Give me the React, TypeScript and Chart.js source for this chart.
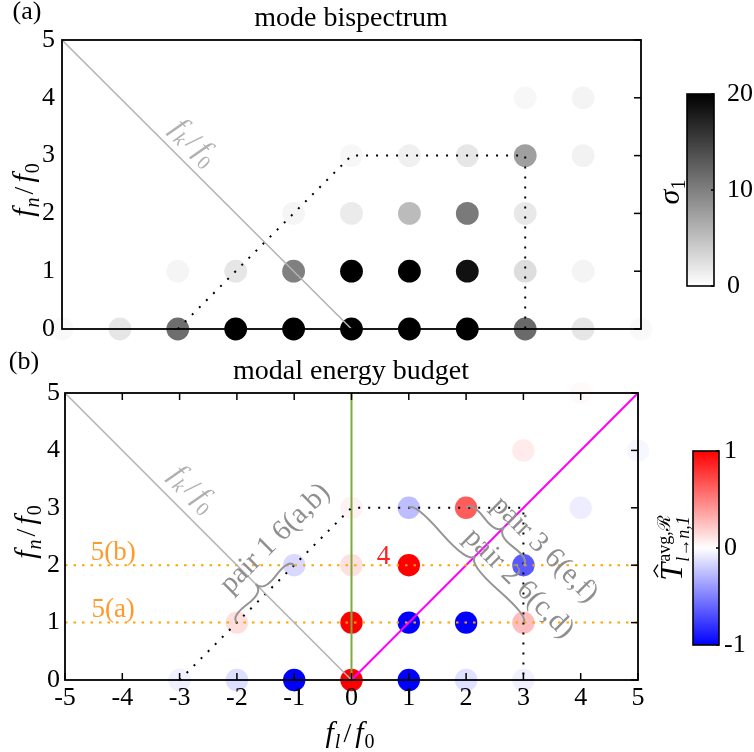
import React, { useEffect, useRef } from 'react';
import { Chart, registerables } from 'chart.js';
Chart.register(...registerables);

const FONT = "'Liberation Serif', 'Times New Roman', serif";

// ---------- Panel (a): mode bispectrum ----------
const bispecFl = [-5, -4, -3, -2, -1, 0, 1, 2, 3, 4, 5, -3, -2, -1, 0, 1, 2, 3, 4, -1, 0, 1, 2, 3, 0, 1, 2, 3, 4, 3, 4];
const bispecFn = [0, 0, 0, 0, 0, 0, 0, 0, 0, 0, 0, 1, 1, 1, 1, 1, 1, 1, 1, 2, 2, 2, 2, 2, 3, 3, 3, 3, 3, 4, 4];
const bispecSigma = [0.5, 2.0, 11.4, 24, 26, 28, 26, 24, 11.7, 2.0, 0.5, 0.8, 2.0, 10.0, 22, 21, 18.7, 2.7, 0.9, 0.8, 1.6, 5.3, 10.4, 1.8, 0.6, 1.2, 2.0, 7.5, 1.0, 0.6, 0.9];

// ---------- Panel (b): modal energy budget ----------
const budgetFl = [-3, -2, -1, 0, 1, 2, 3, -2, 0, 1, 2, 3, -1, 0, 1, 3, 0, 1, 2, 4, 3, 5, 4];
const budgetFn = [0, 0, 0, 0, 0, 0, 0, 1, 1, 1, 1, 1, 2, 2, 2, 2, 3, 3, 3, 3, 4, 4, 5];
const budgetT = [-0.06, -0.13, -1, 1, -1, -0.12, -0.06, 0.13, 1, -1, -1, 0.26, -0.15, 0.12, 1, -0.65, 0.05, -0.26, 0.64, -0.07, 0.08, -0.03, 0.02];

// ---------- Guide lines ----------
const fkLineX = [-5, 0];
const fkLineY = [5, 0];
const triadX = [-3, 0, 3, 3];
const triadY = [0, 3, 3, 0];
const greenX = [0, 0];
const greenY = [0, 5];
const magentaX = [0, 5];
const magentaY = [0, 5];
const orangeLevels = [1, 2];
const orangeLabels = ['5(a)', '5(b)'];

// ---------- Axes / colorbars ----------
const xTickValues = [-5, -4, -3, -2, -1, 0, 1, 2, 3, 4, 5];
const yTickValues = [0, 1, 2, 3, 4, 5];
const sigmaRange = [0, 20];
const sigmaTicks = [0, 10, 20];
const budgetRange = [-1, 1];
const budgetTicks = [-1, 0, 1];

// ---------- Pair annotations ----------
const pairNames = ['pair 1 6(a,b)', 'pair 2 6(c,d)', 'pair 3 6(e,f)'];
const pairFrom = [[-2, 1], [1, 3], [2, 3]];
const pairTo = [[-1, 2], [3, 1], [3, 2]];

const clamp = (v: number, a: number, b: number) => Math.max(a, Math.min(b, v));
function grayColor(v: number) {
  const t = clamp((v - sigmaRange[0]) / (sigmaRange[1] - sigmaRange[0]), 0, 1);
  const g = Math.round(255 * (1 - t));
  return `rgb(${g},${g},${g})`;
}
function bwrColor(v: number) {
  const t = clamp(v, budgetRange[0], budgetRange[1]);
  if (t < 0) {
    const c = Math.round(255 * (1 + t));
    return `rgb(${c},${c},255)`;
  }
  const c = Math.round(255 * (1 - t));
  return `rgb(255,${c},${c})`;
}

type Seg = { t: string; size: number; it?: boolean; dy?: number; gap?: number };
const segFont = (s: Seg) => `${s.it ? 'italic ' : ''}${s.size}px ${FONT}`;
function drawRich(ctx: CanvasRenderingContext2D, segs: Seg[], cx: number, cy: number, angle: number, color: string, base: number) {
  ctx.save();
  ctx.translate(cx, cy);
  ctx.rotate(angle);
  ctx.fillStyle = color;
  ctx.textAlign = 'left';
  ctx.textBaseline = 'alphabetic';
  const ws: number[] = [];
  let total = 0;
  segs.forEach((s) => {
    ctx.font = segFont(s);
    const w = ctx.measureText(s.t).width;
    ws.push(w);
    total += w + (s.gap ?? 0);
  });
  let x = -total / 2;
  segs.forEach((s, i) => {
    ctx.font = segFont(s);
    ctx.fillText(s.t, x, base + (s.dy ?? 0));
    x += ws[i] + (s.gap ?? 0);
  });
  ctx.restore();
}
function ratio(sub: string): Seg[] {
  return [
    { t: 'f', size: 30, it: true, gap: 1 },
    { t: sub, size: 20, it: true, dy: 6, gap: 3 },
    { t: '/', size: 28, gap: 4 },
    { t: 'f', size: 30, it: true, gap: 1 },
    { t: '0', size: 20, dy: 6 },
  ];
}
function drawText(ctx: CanvasRenderingContext2D, text: string, x: number, y: number, angle: number, size: number, color: string, align: CanvasTextAlign = 'center') {
  ctx.save();
  ctx.translate(x, y);
  ctx.rotate(angle);
  ctx.font = `${size}px ${FONT}`;
  ctx.fillStyle = color;
  ctx.textAlign = align;
  ctx.textBaseline = 'middle';
  ctx.fillText(text, 0, 0);
  ctx.restore();
}
function drawBrace(ctx: CanvasRenderingContext2D, x1: number, y1: number, x2: number, y2: number, w: number, q = 0.6) {
  const L = Math.hypot(x2 - x1, y2 - y1);
  const ux = (x2 - x1) / L, uy = (y2 - y1) / L;
  const nx = uy, ny = -ux;
  const tx = x1 + ux * L * 0.5 + nx * w, ty = y1 + uy * L * 0.5 + ny * w;
  const c1x = x1 + nx * q * w, c1y = y1 + ny * q * w;
  const m1x = x1 + ux * L * 0.25 + nx * (1 - q) * w, m1y = y1 + uy * L * 0.25 + ny * (1 - q) * w;
  const c3x = x2 + nx * q * w, c3y = y2 + ny * q * w;
  const m2x = x1 + ux * L * 0.75 + nx * (1 - q) * w, m2y = y1 + uy * L * 0.75 + ny * (1 - q) * w;
  ctx.beginPath();
  ctx.moveTo(x1, y1);
  ctx.quadraticCurveTo(c1x, c1y, m1x, m1y);
  ctx.quadraticCurveTo(2 * m1x - c1x, 2 * m1y - c1y, tx, ty);
  ctx.moveTo(x2, y2);
  ctx.quadraticCurveTo(c3x, c3y, m2x, m2y);
  ctx.quadraticCurveTo(2 * m2x - c3x, 2 * m2y - c3y, tx, ty);
  ctx.stroke();
}
function drawColorbar(ctx: CanvasRenderingContext2D, x0: number, y0: number, w: number, h: number, stops: [number, string][], ticks: number[], range: number[], labelX: number) {
  const g = ctx.createLinearGradient(0, y0 + h, 0, y0);
  stops.forEach(([o, c]) => g.addColorStop(o, c));
  ctx.fillStyle = g;
  ctx.fillRect(x0, y0, w, h);
  ctx.strokeStyle = '#000';
  ctx.lineWidth = 1.6;
  ctx.strokeRect(x0, y0, w, h);
  ticks.forEach((t) => {
    const y = y0 + h - ((t - range[0]) / (range[1] - range[0])) * h;
    ctx.beginPath();
    ctx.moveTo(x0 + w, y);
    ctx.lineTo(x0 + w - 3, y);
    ctx.stroke();
    drawText(ctx, String(t), labelX, y, 0, 26, '#000', 'left');
  });
}
function frame(ctx: CanvasRenderingContext2D, chart: any, sides: { top?: boolean; bottom?: boolean; right?: boolean }) {
  const { left, right, top, bottom } = chart.chartArea;
  const xs = chart.scales.x, ys = chart.scales.y;
  ctx.save();
  ctx.strokeStyle = '#000';
  ctx.lineWidth = 1.8;
  ctx.strokeRect(left, top, right - left, bottom - top);
  ctx.lineWidth = 1.5;
  const T = 7;
  xTickValues.forEach((v) => {
    const px = xs.getPixelForValue(v);
    if (sides.top) { ctx.beginPath(); ctx.moveTo(px, top); ctx.lineTo(px, top + T); ctx.stroke(); }
    if (sides.bottom) { ctx.beginPath(); ctx.moveTo(px, bottom); ctx.lineTo(px, bottom - T); ctx.stroke(); }
  });
  yTickValues.forEach((v) => {
    const py = ys.getPixelForValue(v);
    if (sides.right) { ctx.beginPath(); ctx.moveTo(right, py); ctx.lineTo(right - T, py); ctx.stroke(); }
  });
  ctx.restore();
}

const pts = (xs: number[], ys: number[]) => xs.map((x, i) => ({ x, y: ys[i] }));
const lineDs = (xs: number[], ys: number[], color: string, width: number, dash: number[] = []) => ({
  data: pts(xs, ys),
  showLine: true,
  borderColor: color,
  borderWidth: width,
  borderDash: dash,
  pointRadius: 0,
  fill: false,
  tension: 0,
  order: 1,
  clip: false,
});

const tickFont = { family: FONT, size: 26 };

function configA(): any {
  const colors = bispecSigma.map(grayColor);
  return {
    type: 'scatter',
    data: {
      datasets: [
        { data: pts(bispecFl, bispecFn), pointRadius: 11.4, pointBackgroundColor: colors, pointBorderColor: colors, pointBorderWidth: 0, order: 5, clip: false },
        lineDs(fkLineX, fkLineY, '#b3b3b3', 1.6),
        lineDs(triadX, triadY, '#000', 2, [2, 8]),
      ],
    },
    options: {
      animation: false, responsive: false, events: [],
      layout: { padding: { left: 32, top: 40, right: 113, bottom: 423 } },
      plugins: { legend: { display: false }, tooltip: { enabled: false }, title: { display: false } },
      scales: {
        x: { type: 'linear', min: -5, max: 5, display: false },
        y: {
          type: 'linear', min: 0, max: 5, z: 1,
          afterFit: (s: any) => { s.width = 30; },
          ticks: { stepSize: 1, font: tickFont, color: '#000', padding: 7, z: 2 },
          grid: { display: false, drawTicks: false }, border: { display: false },
        },
      },
    },
    plugins: [{
      id: 'decorA',
      afterDatasetsDraw(chart: any) {
        const ctx = chart.ctx;
        frame(ctx, chart, { right: true });
        const xs = chart.scales.x, ys = chart.scales.y;
        drawRich(ctx, ratio('k'), xs.getPixelForValue(-2.72), ys.getPixelForValue(3.23), Math.PI / 4, '#b0b0b0', 8);
      },
      afterDraw(chart: any) {
        const ctx = chart.ctx;
        drawText(ctx, 'mode bispectrum', 351, 19, 0, 28, '#000');
        drawText(ctx, '(a)', 27, 12, 0, 26, '#000');
        drawRich(ctx, ratio('n'), 24, 190, -Math.PI / 2, '#000', 9);
        drawColorbar(ctx, 687, 94, 27, 192, [[0, '#ffffff'], [1, '#000000']], sigmaTicks, sigmaRange, 727);
        drawRich(ctx, [{ t: 'σ', size: 30, it: true, gap: 0 }, { t: '1', size: 20, dy: 6 }], 670, 192, -Math.PI / 2, '#000', 9);
      },
    }],
  };
}

function configB(): any {
  const colors = budgetT.map(bwrColor);
  const orangeDs = orangeLevels.map((lv) => lineDs([-5, 5], [lv, lv], '#ffa500', 2, [2.5, 6]));
  return {
    type: 'scatter',
    data: {
      datasets: [
        { data: pts(budgetFl, budgetFn), pointRadius: 11.2, pointBackgroundColor: colors, pointBorderColor: colors, pointBorderWidth: 0, order: 5, clip: false },
        lineDs(fkLineX, fkLineY, '#b3b3b3', 1.6),
        lineDs(triadX, triadY, '#000', 2, [2, 8]),
        ...orangeDs,
        lineDs(greenX, greenY, '#7cab3c', 2),
        lineDs(magentaX, magentaY, '#ff00ff', 2),
      ],
    },
    options: {
      animation: false, responsive: false, events: [],
      layout: { padding: { left: 35, top: 393, right: 116, bottom: 32 } },
      plugins: { legend: { display: false }, tooltip: { enabled: false }, title: { display: false } },
      scales: {
        x: {
          type: 'linear', min: -5, max: 5, z: 1,
          afterFit: (s: any) => { s.height = 40; },
          ticks: { stepSize: 1, font: tickFont, color: '#000', padding: 3, autoSkip: false, maxRotation: 0, z: 2 },
          grid: { display: false, drawTicks: false }, border: { display: false },
        },
        y: {
          type: 'linear', min: 0, max: 5, z: 1,
          afterFit: (s: any) => { s.width = 30; },
          ticks: { stepSize: 1, font: tickFont, color: '#000', padding: 5, z: 2 },
          grid: { display: false, drawTicks: false }, border: { display: false },
        },
      },
    },
    plugins: [{
      id: 'decorB',
      afterDatasetsDraw(chart: any) {
        const ctx = chart.ctx;
        const xs = chart.scales.x, ys = chart.scales.y;
        const px = (v: number) => xs.getPixelForValue(v);
        const py = (v: number) => ys.getPixelForValue(v);
        frame(ctx, chart, { top: true, bottom: true, right: true });
        drawRich(ctx, ratio('k'), px(-2.77), py(3.33), Math.PI / 4, '#b0b0b0', 8);
        orangeLevels.forEach((lv, i) => drawText(ctx, orangeLabels[i], px(-4.16), py(lv + 0.22), 0, 27, '#ff9a2a'));
        drawText(ctx, '4', px(0.56), py(2.15), 0, 27, '#ff2020');
        // braces and pair labels
        ctx.save();
        ctx.strokeStyle = '#959595';
        ctx.lineWidth = 2;
        const bulge = [14, 13, 14];
        pairFrom.forEach((a, i) => {
          const b = pairTo[i];
          drawBrace(ctx, px(a[0]), py(a[1]), px(b[0]), py(b[1]), bulge[i]);
        });
        ctx.restore();
        const labelPos = [[-1.33, 2.46, -Math.PI / 4], [2.92, 1.68, Math.PI / 4], [3.37, 2.27, Math.PI / 4]];
        pairNames.forEach((n, i) => {
          const [x, y, ang] = labelPos[i];
          drawText(ctx, n, px(x), py(y), ang, 29, '#8f8f8f');
        });
      },
      afterDraw(chart: any) {
        const ctx = chart.ctx;
        drawText(ctx, 'modal energy budget', 351, 372, 0, 28, '#000');
        drawText(ctx, '(b)', 24, 362, 0, 26, '#000');
        drawRich(ctx, ratio('n'), 26, 532, -Math.PI / 2, '#000', 9);
        drawRich(ctx, ratio('l'), 350, 733, 0, '#000', 9);
        drawColorbar(ctx, 693, 451, 26, 194, [[0, '#0000ff'], [0.5, '#ffffff'], [1, '#ff0000']], budgetTicks, budgetRange, 724);
        // colorbar label: hat-T ^{avg,R}_{l->n,1}
        ctx.save();
        ctx.translate(672, 548);
        ctx.rotate(-Math.PI / 2);
        ctx.fillStyle = '#000';
        ctx.strokeStyle = '#000';
        ctx.textBaseline = 'alphabetic';
        ctx.textAlign = 'left';
        ctx.font = `italic 32px ${FONT}`;
        const wT = ctx.measureText('T').width;
        ctx.font = `18px ${FONT}`;
        const wSup = ctx.measureText('avg,ℛ').width;
        ctx.font = `italic 18px ${FONT}`;
        const wSub = ctx.measureText('l→n,1').width;
        const total = wT + 1 + Math.max(wSup, wSub);
        const x0 = -total / 2;
        const base = 10;
        ctx.font = `italic 32px ${FONT}`;
        ctx.fillText('T', x0, base);
        ctx.lineWidth = 1.3;
        ctx.beginPath();
        ctx.moveTo(x0 + wT * 0.2, base - 24);
        ctx.lineTo(x0 + wT * 0.55, base - 28);
        ctx.lineTo(x0 + wT * 0.9, base - 24);
        ctx.stroke();
        ctx.font = `18px ${FONT}`;
        ctx.fillText('avg,ℛ', x0 + wT + 1, base - 12);
        ctx.font = `italic 18px ${FONT}`;
        ctx.fillText('l→n,1', x0 + wT + 1, base + 7);
        ctx.restore();
      },
    }],
  };
}

export default function App() {
  const refA = useRef<HTMLCanvasElement>(null);
  const refB = useRef<HTMLCanvasElement>(null);
  useEffect(() => {
    const a = new Chart(refA.current as HTMLCanvasElement, configA());
    const b = new Chart(refB.current as HTMLCanvasElement, configB());
    return () => {
      a.destroy();
      b.destroy();
    };
  }, []);
  return (
    <div style={{ position: 'absolute', left: 0, top: 0, width: 754, height: 752, background: '#fff' }}>
      <canvas ref={refA} width={754} height={752} style={{ position: 'absolute', left: 0, top: 0 }} />
      <canvas ref={refB} width={754} height={752} style={{ position: 'absolute', left: 0, top: 0 }} />
    </div>
  );
}
